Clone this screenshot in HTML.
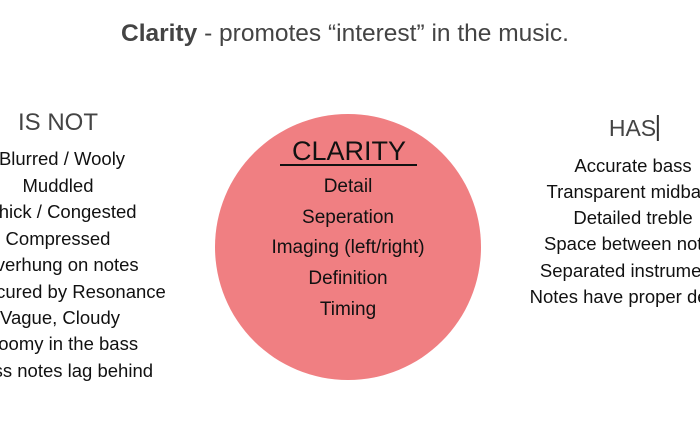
<!DOCTYPE html>
<html><head><style>
body{margin:0;width:700px;height:441px;background:#fff;position:relative;overflow:hidden;font-family:"Liberation Sans",sans-serif;}
.t{position:absolute;white-space:nowrap;transform:translateX(-50%);line-height:1;}
.l{font-size:18.5px;color:#111;}
.c{font-size:19px;color:#111;}
</style></head><body>
<div class="t" style="left:345px;top:22px;font-size:24.5px;color:#444;"><b>Clarity</b> - promotes “interest” in the music.</div>
<div class="t" style="left:58px;top:111px;font-size:24px;color:#444;">IS NOT</div>
<div class="t l" style="left:62px;top:150px;">Blurred / Wooly</div>
<div class="t l" style="left:58px;top:177px;">Muddled</div>
<div class="t l" style="left:62px;top:203px;">Thick / Congested</div>
<div class="t l" style="left:58px;top:230px;">Compressed</div>
<div class="t l" style="left:60px;top:256px;">Overhung on notes</div>
<div class="t l" style="left:64px;top:283px;">Obscured by Resonance</div>
<div class="t l" style="left:60px;top:309px;">Vague, Cloudy</div>
<div class="t l" style="left:62px;top:335px;">Boomy in the bass</div>
<div class="t l" style="left:62px;top:362px;">Bass notes lag behind</div>
<div class="t" style="left:634px;top:117px;font-size:23px;color:#444;">HAS<span style="border-left:2px solid #333;margin-left:1px;"></span></div>
<div class="t l" style="left:633px;top:157px;">Accurate bass</div>
<div class="t l" style="left:633px;top:183px;">Transparent midbass</div>
<div class="t l" style="left:633px;top:209px;">Detailed treble</div>
<div class="t l" style="left:633px;top:235px;">Space between notes</div>
<div class="t l" style="left:633px;top:262px;">Separated instruments</div>
<div class="t l" style="left:633px;top:288px;">Notes have proper decay</div>
<div style="position:absolute;left:215px;top:114px;width:266px;height:266px;border-radius:50%;background:#f07f82;"></div>
<div class="t" style="left:349px;top:138px;font-size:27px;color:#111;">CLARITY</div>
<div style="position:absolute;left:280px;top:164px;width:137px;height:2px;background:#111;"></div>
<div class="t c" style="left:348px;top:177px;">Detail</div>
<div class="t c" style="left:348px;top:208px;">Seperation</div>
<div class="t c" style="left:348px;top:238px;">Imaging (left/right)</div>
<div class="t c" style="left:348px;top:269px;">Definition</div>
<div class="t c" style="left:348px;top:300px;">Timing</div>
</body></html>
